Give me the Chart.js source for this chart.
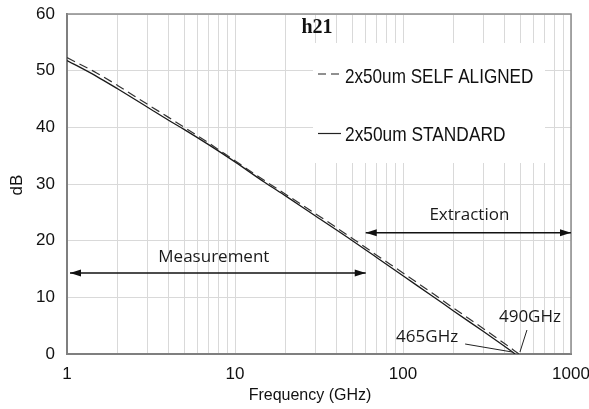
<!DOCTYPE html>
<html>
<head>
<meta charset="utf-8">
<script src="https://cdn.jsdelivr.net/npm/chart.js@4.4.1/dist/chart.umd.min.js"></script>
<style>
  html, body { margin: 0; padding: 0; background: #fff; }
  #wrap { width: 589px; height: 409px; }
</style>
</head>
<body>
<div id="wrap"><canvas id="h21Chart" width="589" height="409"></canvas></div>
<script>
/* =========================
   Data: current gain h21 vs frequency
   ========================= */

const freqGHz      = [1, 1.5, 2, 3, 4, 5, 7, 10, 15, 20, 30, 50, 70, 100, 150, 200, 300, 400];
const standardDb   = [51.8, 49.0, 46.8, 43.6, 41.3, 39.6, 36.9, 33.9, 30.3, 27.9, 24.4, 20.0, 17.0, 13.8, 10.2, 7.6, 4.0, 1.4];
const selfAlignDb  = [52.3, 49.6, 47.4, 44.1, 41.8, 40.0, 37.2, 34.1, 30.6, 28.2, 24.8, 20.4, 17.4, 14.3, 10.7, 8.1, 4.5, 1.9];
const ftStandard   = 465;   // GHz, 0 dB crossing
const ftSelfAlign  = 490;

const seriesLabels = ['2x50um SELF ALIGNED', '2x50um STANDARD'];
const xTickValues  = [1, 10, 100, 1000];
const yTickValues  = [0, 10, 20, 30, 40, 50, 60];

const measurementRange = [1, 60];     // GHz
const extractionRange  = [60, 1000];
const measurementLevel = 14.3;        // dB, arrow height
const extractionLevel  = 21.4;

const toPoints = (xs, ys) => xs.map((x, i) => ({ x: x, y: ys[i] }));

// all decade minor ticks 1..9 x 10^n, labelled only on the decades
function logGridTicks() {
    const out = [];
    for (let d = 0; d < 3; d++) {
        for (let m = 1; m < 10; m++) out.push(m * Math.pow(10, d));
    }
    out.push(1000);
    return out;
}

/* =========================
   Frame, legend and annotations
   ========================= */

function arrow(ctx, x1, x2, y, headLeft, headRight) {
    ctx.beginPath();
    ctx.moveTo(x1, y);
    ctx.lineTo(x2, y);
    ctx.stroke();
    const hl = 11, hw = 3.5;
    if (headLeft) {
        ctx.beginPath();
        ctx.moveTo(x1, y);
        ctx.lineTo(x1 + hl, y - hw);
        ctx.lineTo(x1 + hl, y + hw);
        ctx.closePath();
        ctx.fill();
    }
    if (headRight) {
        ctx.beginPath();
        ctx.moveTo(x2, y);
        ctx.lineTo(x2 - hl, y - hw);
        ctx.lineTo(x2 - hl, y + hw);
        ctx.closePath();
        ctx.fill();
    }
}

function squeezedText(ctx, text, x, y, sx) {
    ctx.save();
    ctx.translate(x, y);
    ctx.scale(sx, 1);
    ctx.fillText(text, 0, 0);
    ctx.restore();
}

const decorPlugin = {
    id: 'decor',
    beforeDatasetsDraw(chart) {
        const { ctx } = chart;
        ctx.save();
        // white legend panel covering the grid
        ctx.fillStyle = '#ffffff';
        ctx.fillRect(313, 43, 232, 120);
        ctx.restore();
    },
    afterDatasetsDraw(chart) {
        const { ctx, chartArea: a, scales } = chart;
        const xs = scales.x, ys = scales.y;
        ctx.save();

        // top and right frame
        ctx.strokeStyle = '#8c8c8c';
        ctx.lineWidth = 1.5;
        ctx.beginPath();
        ctx.moveTo(a.left, a.top);
        ctx.lineTo(a.right, a.top);
        ctx.lineTo(a.right, a.bottom);
        ctx.stroke();

        // title inside plot
        ctx.fillStyle = '#111';
        ctx.font = 'bold 20px "Liberation Serif", "Times New Roman", serif';
        ctx.textAlign = 'center';
        ctx.textBaseline = 'alphabetic';
        ctx.fillText('h21', 317, 33);

        // legend entries
        ctx.strokeStyle = '#222';
        ctx.lineWidth = 1.2;
        ctx.setLineDash([8, 5]);
        ctx.beginPath();
        ctx.moveTo(318, 74);
        ctx.lineTo(341, 74);
        ctx.stroke();
        ctx.setLineDash([]);
        ctx.beginPath();
        ctx.moveTo(318, 133.5);
        ctx.lineTo(341, 133.5);
        ctx.stroke();
        ctx.font = '21px "Liberation Sans", Arial, sans-serif';
        ctx.textAlign = 'left';
        ctx.textBaseline = 'middle';
        squeezedText(ctx, seriesLabels[0], 345, 77, 0.815);
        squeezedText(ctx, seriesLabels[1], 345, 135, 0.825);

        // measurement / extraction arrows
        ctx.strokeStyle = '#111';
        ctx.fillStyle = '#111';
        ctx.lineWidth = 1.5;
        const mx1 = xs.getPixelForValue(measurementRange[0]) + 3;
        const mx2 = xs.getPixelForValue(measurementRange[1]);
        const my = ys.getPixelForValue(measurementLevel);
        arrow(ctx, mx1, mx2, my, true, true);
        const ex1 = xs.getPixelForValue(extractionRange[0]);
        const ex2 = xs.getPixelForValue(extractionRange[1]);
        const ey = ys.getPixelForValue(extractionLevel);
        arrow(ctx, ex1, ex2, ey, true, true);

        ctx.font = '17px "Open Sans", sans-serif';
        ctx.textAlign = 'center';
        ctx.textBaseline = 'middle';
        ctx.fillStyle = '#1a1a1a';
        ctx.fillText('Measurement', (mx1 + mx2) / 2 - 4, my - 16);
        ctx.fillText('Extraction', (ex1 + ex2) / 2 + 1, ey - 18);

        // fT labels with leader lines to the 0 dB crossings
        const y0 = ys.getPixelForValue(0);
        const p1 = xs.getPixelForValue(ftStandard);
        const p2 = xs.getPixelForValue(ftSelfAlign);
        ctx.fillText(ftStandard + 'GHz', p1 - 88, y0 - 17);
        ctx.fillText(ftSelfAlign + 'GHz', p2 + 11, y0 - 37);
        ctx.lineWidth = 1;
        ctx.strokeStyle = '#222';
        ctx.beginPath();
        ctx.moveTo(p1 - 50, y0 - 10);
        ctx.lineTo(p1 - 3, y0 - 2);
        ctx.moveTo(p2 + 8, y0 - 24);
        ctx.lineTo(p2 + 1, y0 - 2);
        ctx.stroke();

        // axis titles
        ctx.fillStyle = '#111';
        ctx.font = '16px "Liberation Sans", Arial, sans-serif';
        ctx.fillText('Frequency (GHz)', 310, 396);
        ctx.translate(17, 185);
        ctx.rotate(-Math.PI / 2);
        ctx.font = '17px "Liberation Sans", Arial, sans-serif';
        ctx.fillText('dB', 0, 0);

        ctx.restore();
    }
};

/* =========================
   Chart
   ========================= */

Chart.defaults.font.family = '"Liberation Sans", Arial, sans-serif';
Chart.defaults.color = '#111';

const ctx = document.getElementById('h21Chart').getContext('2d');
new Chart(ctx, {
    type: 'line',
    data: {
        datasets: [
            {
                label: seriesLabels[0],
                data: toPoints(freqGHz.concat([ftSelfAlign]), selfAlignDb.concat([0])),
                borderColor: '#333',
                borderWidth: 1.2,
                borderDash: [9, 5],
                pointRadius: 0,
                cubicInterpolationMode: 'monotone',
                fill: false
            },
            {
                label: seriesLabels[1],
                data: toPoints(freqGHz.concat([ftStandard]), standardDb.concat([0])),
                borderColor: '#1a1a1a',
                borderWidth: 1.3,
                pointRadius: 0,
                cubicInterpolationMode: 'monotone',
                fill: false
            }
        ]
    },
    options: {
        responsive: false,
        animation: false,
        layout: { padding: { top: 14, right: 18, left: 0, bottom: 0 } },
        plugins: {
            legend: { display: false },
            tooltip: { enabled: false }
        },
        scales: {
            x: {
                type: 'logarithmic',
                min: 1,
                max: 1000,
                afterFit(scale) {
                    scale.height = 55;
                    scale.paddingLeft = 0;
                    scale.paddingRight = 0;
                },
                afterBuildTicks(scale) {
                    scale.ticks = logGridTicks().map(v => ({ value: v }));
                },
                ticks: {
                    autoSkip: false,
                    maxRotation: 0,
                    padding: 10,
                    font: { size: 17 },
                    color: '#111',
                    callback: function (value) {
                        return xTickValues.includes(value) ? String(value) : '';
                    }
                },
                grid: { color: '#d9d9d9', lineWidth: 1, drawTicks: false },
                border: { color: '#7f7f7f', width: 2 }
            },
            y: {
                min: 0,
                max: 60,
                afterFit(scale) {
                    scale.width = 67;
                    scale.paddingTop = 0;
                    scale.paddingBottom = 0;
                },
                afterBuildTicks(scale) {
                    scale.ticks = yTickValues.map(v => ({ value: v }));
                },
                ticks: {
                    padding: 12,
                    font: { size: 17 },
                    color: '#111'
                },
                grid: { color: '#d9d9d9', lineWidth: 1, drawTicks: false },
                border: { color: '#7f7f7f', width: 2 }
            }
        }
    },
    plugins: [decorPlugin]
});
</script>
</body>
</html>
